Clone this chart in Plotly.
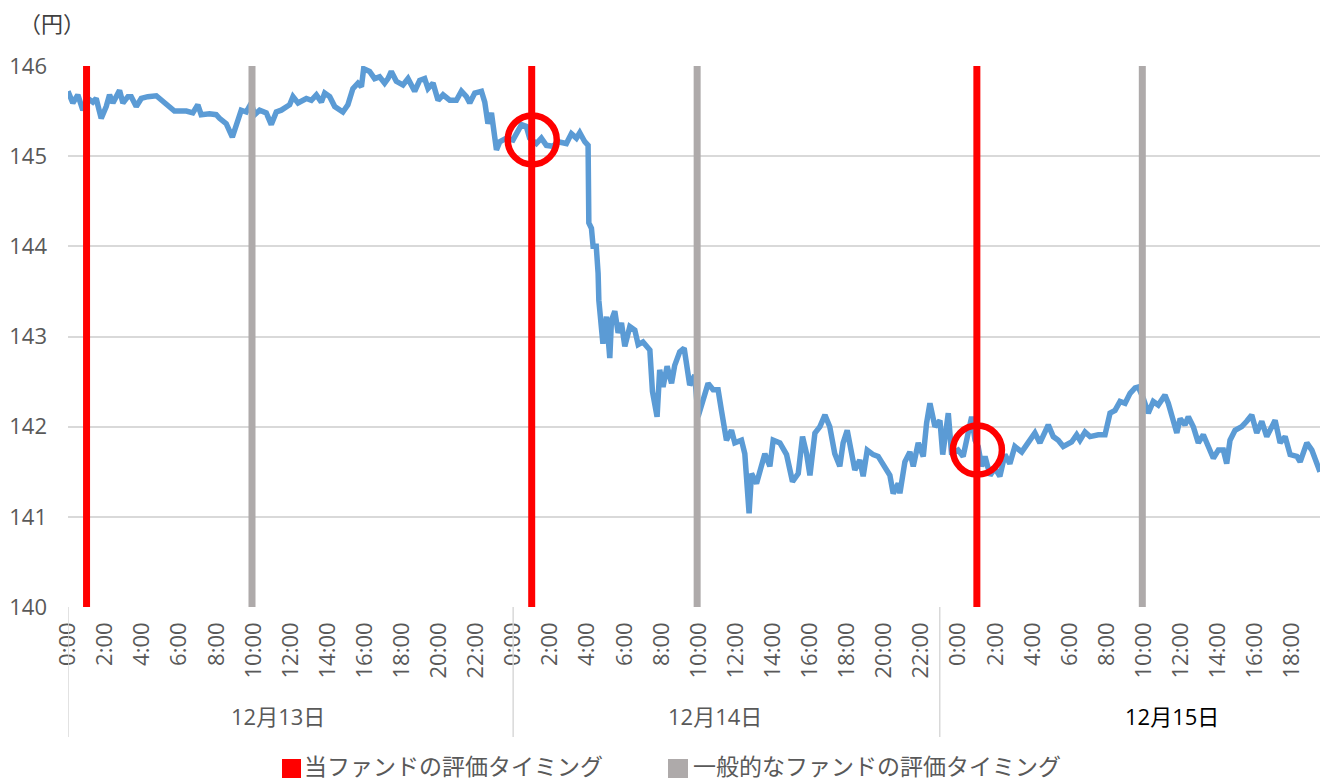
import plotly.graph_objects as go

# ---- data: hours elapsed since 12/13 0:00, USD/JPY price ----
hours = [0.00, 0.26, 0.53, 0.80, 1.07, 1.34, 1.52, 1.79, 2.06, 2.24, 2.42, 2.78, 2.96, 3.23, 3.41, 3.68,
         3.95, 4.30, 4.76, 5.30, 5.74, 6.38, 6.73, 7.00, 7.18, 7.63, 7.99, 8.17, 8.53, 8.86, 9.07, 9.34,
         9.61, 9.88, 10.06, 10.33, 10.69, 10.96, 11.23, 11.50, 11.95, 12.13, 12.40, 12.85, 13.12, 13.39,
         13.66, 13.84, 14.11, 14.38, 14.82, 15.09, 15.36, 15.63, 15.82, 15.94, 16.26, 16.53, 16.80, 17.07,
         17.25, 17.43, 17.70, 18.06, 18.33, 18.69, 18.96, 19.23, 19.41, 19.68, 19.95, 20.22, 20.58, 20.94,
         21.21, 21.48, 21.66, 21.93, 22.29, 22.47, 22.64, 22.83, 23.10, 23.28, 23.64, 23.99, 24.45, 24.71,
         24.89, 25.25, 25.52, 25.79, 26.15, 26.42, 26.87, 27.14, 27.41, 27.59, 27.86, 28.04, 28.08, 28.22,
         28.31, 28.48, 28.58, 28.62, 28.84, 29.03, 29.21, 29.30, 29.48, 29.66, 29.84, 30.02, 30.29, 30.56,
         30.74, 31.00, 31.37, 31.51, 31.76, 31.90, 32.08, 32.30, 32.54, 32.71, 32.98, 33.22, 33.52, 33.79,
         33.97, 34.24, 34.51, 34.78, 35.05, 35.23, 35.50, 35.77, 35.95, 36.31, 36.49, 36.72, 36.85, 37.12,
         37.30, 37.57, 37.84, 38.02, 38.38, 38.74, 39.06, 39.37, 39.60, 39.82, 40.00, 40.27, 40.54, 40.81,
         41.07, 41.34, 41.61, 41.79, 42.01, 42.25, 42.42, 42.69, 42.87, 43.09, 43.41, 43.68, 43.95, 44.31,
         44.49, 44.76, 44.85, 45.12, 45.39, 45.57, 45.84, 46.11, 46.29, 46.47, 46.74, 47.01, 47.16, 47.46,
         47.64, 47.99, 48.26, 48.53, 48.72, 48.90, 49.07, 49.26, 49.44, 49.71, 49.97, 50.24, 50.51, 50.78,
         51.05, 51.42, 51.77, 52.13, 52.40, 52.85, 53.12, 53.39, 53.66, 54.11, 54.38, 54.56, 54.83, 55.10,
         55.55, 55.91, 56.18, 56.45, 56.72, 56.99, 57.26, 57.53, 57.70, 57.98, 58.24, 58.51, 58.78, 59.14,
         59.32, 59.51, 59.78, 59.96, 60.22, 60.40, 60.67, 60.94, 61.21, 61.48, 61.75, 62.02, 62.29, 62.47,
         62.65, 62.92, 63.28, 63.55, 63.82, 64.09, 64.36, 64.63, 64.81, 65.08, 65.35, 65.62, 65.89, 66.25,
         66.43, 66.79, 67.06, 67.24, 67.50]
prices = [145.72, 145.59, 145.68, 145.51, 145.64, 145.60, 145.64, 145.42, 145.55, 145.68, 145.59, 145.73,
          145.59, 145.66, 145.66, 145.55, 145.64, 145.66, 145.67, 145.57, 145.50, 145.50, 145.48, 145.57,
          145.46, 145.47, 145.46, 145.42, 145.36, 145.21, 145.33, 145.51, 145.49, 145.59, 145.46, 145.51,
          145.48, 145.35, 145.49, 145.51, 145.57, 145.66, 145.59, 145.64, 145.62, 145.68, 145.60, 145.70,
          145.66, 145.55, 145.49, 145.57, 145.75, 145.81, 145.77, 145.97, 145.94, 145.86, 145.88, 145.81,
          145.86, 145.94, 145.83, 145.79, 145.86, 145.72, 145.84, 145.86, 145.75, 145.81, 145.62, 145.68,
          145.62, 145.62, 145.72, 145.66, 145.59, 145.70, 145.72, 145.60, 145.36, 145.48, 145.07, 145.16,
          145.20, 145.18, 145.35, 145.33, 145.20, 145.14, 145.20, 145.12, 145.11, 145.16, 145.14, 145.25,
          145.20, 145.26, 145.16, 145.12, 144.26, 144.20, 144.00, 144.00, 143.70, 143.40, 142.92, 143.22,
          142.76, 143.18, 143.28, 143.04, 143.15, 142.89, 143.11, 143.07, 142.91, 142.94, 142.85, 142.39,
          142.11, 142.63, 142.44, 142.67, 142.48, 142.68, 142.83, 142.87, 142.46, 142.57, 142.11, 142.31,
          142.48, 142.41, 142.41, 142.18, 141.85, 141.96, 141.82, 141.85, 141.70, 141.04, 141.48, 141.37,
          141.50, 141.70, 141.56, 141.85, 141.82, 141.69, 141.39, 141.48, 141.89, 141.70, 141.46, 141.93,
          142.00, 142.13, 142.00, 141.70, 141.56, 141.82, 141.96, 141.70, 141.52, 141.63, 141.45, 141.74,
          141.69, 141.67, 141.58, 141.46, 141.26, 141.37, 141.26, 141.61, 141.72, 141.56, 141.82, 141.67,
          142.04, 142.26, 142.00, 142.07, 141.69, 142.15, 141.69, 141.74, 141.67, 141.93, 142.11, 141.85,
          141.78, 141.56, 141.67, 141.46, 141.54, 141.45, 141.69, 141.59, 141.78, 141.72, 141.83, 141.93,
          141.82, 142.02, 141.89, 141.85, 141.78, 141.83, 141.91, 141.85, 141.94, 141.89, 141.91, 141.91,
          142.15, 142.18, 142.28, 142.26, 142.37, 142.43, 142.44, 142.31, 142.15, 142.28, 142.24, 142.35,
          142.26, 142.11, 141.93, 142.09, 142.02, 142.11, 142.00, 141.82, 141.91, 141.78, 141.65, 141.74,
          141.74, 141.59, 141.85, 141.96, 142.00, 142.06, 142.13, 141.93, 142.06, 141.89, 141.96, 142.07,
          141.82, 141.89, 141.69, 141.67, 141.61, 141.82, 141.74, 141.63, 141.50]

# valuation timings (hours since 12/13 0:00)
this_fund_times = [1.0, 25.0, 49.0]
general_fund_times = [9.92, 33.92, 57.92]
# circled valuation points
circle_times = [25.03, 49.03]
circle_prices = [145.18, 141.74]

tick_hours = list(range(0, 67, 2))
tick_labels = [f"{h % 24}:00" for h in tick_hours]
day_labels = ["12月13日", "12月14日", "12月15日"]
day_bounds = [0, 24, 47.0]
legend_names = ["当ファンドの評価タイミング", "一般的なファンドの評価タイミング"]
y_unit = "（円）"

Y_MIN, Y_MAX = 140, 146
FONT = "Open Sans, Noto Sans CJK JP, sans-serif"
CJK = "Noto Sans CJK JP, sans-serif"
GRAY_TXT = "#595959"

fig = go.Figure()
fig.add_trace(go.Scatter(x=hours, y=prices, mode="lines",
                         line=dict(color="#5B9BD5", width=5.5), showlegend=False))


def vlines(ts):
    xs, ys = [], []
    for t in ts:
        xs += [t, t, None]
        ys += [Y_MIN, Y_MAX, None]
    return xs, ys


gx, gy = vlines(general_fund_times)
fig.add_trace(go.Scatter(x=gx, y=gy, mode="lines", line=dict(color="#AEAAAA", width=7),
                         showlegend=False))
rx, ry = vlines(this_fund_times)
fig.add_trace(go.Scatter(x=rx, y=ry, mode="lines", line=dict(color="#FF0000", width=7),
                         showlegend=False))
fig.add_trace(go.Scatter(x=circle_times, y=circle_prices, mode="markers",
                         marker=dict(symbol="circle-open", size=49, color="#FF0000",
                                     line=dict(width=6.5, color="#FF0000")),
                         showlegend=False))

W, H = 1320, 782
L, R, T, B = 68, 0, 66, 175
pw, ph = W - L - R, H - T - B


def px(xp):
    return (xp - L) / pw


def py(yp):
    return (H - B - yp) / ph


shapes = []
# day separator lines under the axis
for b in day_bounds:
    shapes.append(dict(type="line", xref="x", yref="paper", x0=b, x1=b, y0=0, y1=py(737),
                       line=dict(color="#D9D9D9", width=1.5)))
# legend squares
shapes.append(dict(type="rect", xref="paper", yref="paper", x0=px(282), x1=px(301),
                   y0=py(778), y1=py(759), fillcolor="#FF0000", line=dict(width=0)))
shapes.append(dict(type="rect", xref="paper", yref="paper", x0=px(668), x1=px(688),
                   y0=py(778), y1=py(759), fillcolor="#AEAAAA", line=dict(width=0)))

annotations = [
    dict(text=y_unit, xref="paper", yref="paper", x=px(52), y=py(22), xanchor="center",
         yanchor="middle", showarrow=False, font=dict(family=CJK, size=22, color="#404040")),
    dict(text=legend_names[0], xref="paper", yref="paper", x=px(302), y=py(765), xanchor="left",
         yanchor="middle", showarrow=False, font=dict(family=CJK, size=23, color=GRAY_TXT)),
    dict(text=legend_names[1], xref="paper", yref="paper", x=px(691), y=py(765), xanchor="left",
         yanchor="middle", showarrow=False, font=dict(family=CJK, size=23, color=GRAY_TXT)),
]
day_label_px = [278, 715, 1172]
day_label_colors = [GRAY_TXT, GRAY_TXT, "#000000"]
for lab, xp, col in zip(day_labels, day_label_px, day_label_colors):
    annotations.append(dict(text=lab, xref="paper", yref="paper", x=px(xp), y=py(716),
                            xanchor="center", yanchor="middle", showarrow=False,
                            font=dict(family=FONT, size=22, color=col)))

fig.update_layout(
    width=W, height=H,
    margin=dict(l=L, r=R, t=T, b=B, pad=0),
    paper_bgcolor="white", plot_bgcolor="white",
    showlegend=False,
    shapes=shapes, annotations=annotations,
    xaxis=dict(range=[0, 67.5], tickmode="array", tickvals=tick_hours, ticktext=tick_labels,
               tickangle=-90, tickfont=dict(family=FONT, size=22, color=GRAY_TXT),
               showgrid=False, zeroline=False, showline=False, ticks="",
               ticklabelstandoff=10),
    yaxis=dict(range=[Y_MIN, Y_MAX], dtick=1, tickfont=dict(family=FONT, size=22, color=GRAY_TXT),
               showgrid=True, gridcolor="#D9D9D9", gridwidth=2, zeroline=False,
               showline=False, ticks="", ticklabelstandoff=20),
)

fig.write_html("out.html", config={"displayModeBar": False},
               post_script="document.body.style.margin='0';")
